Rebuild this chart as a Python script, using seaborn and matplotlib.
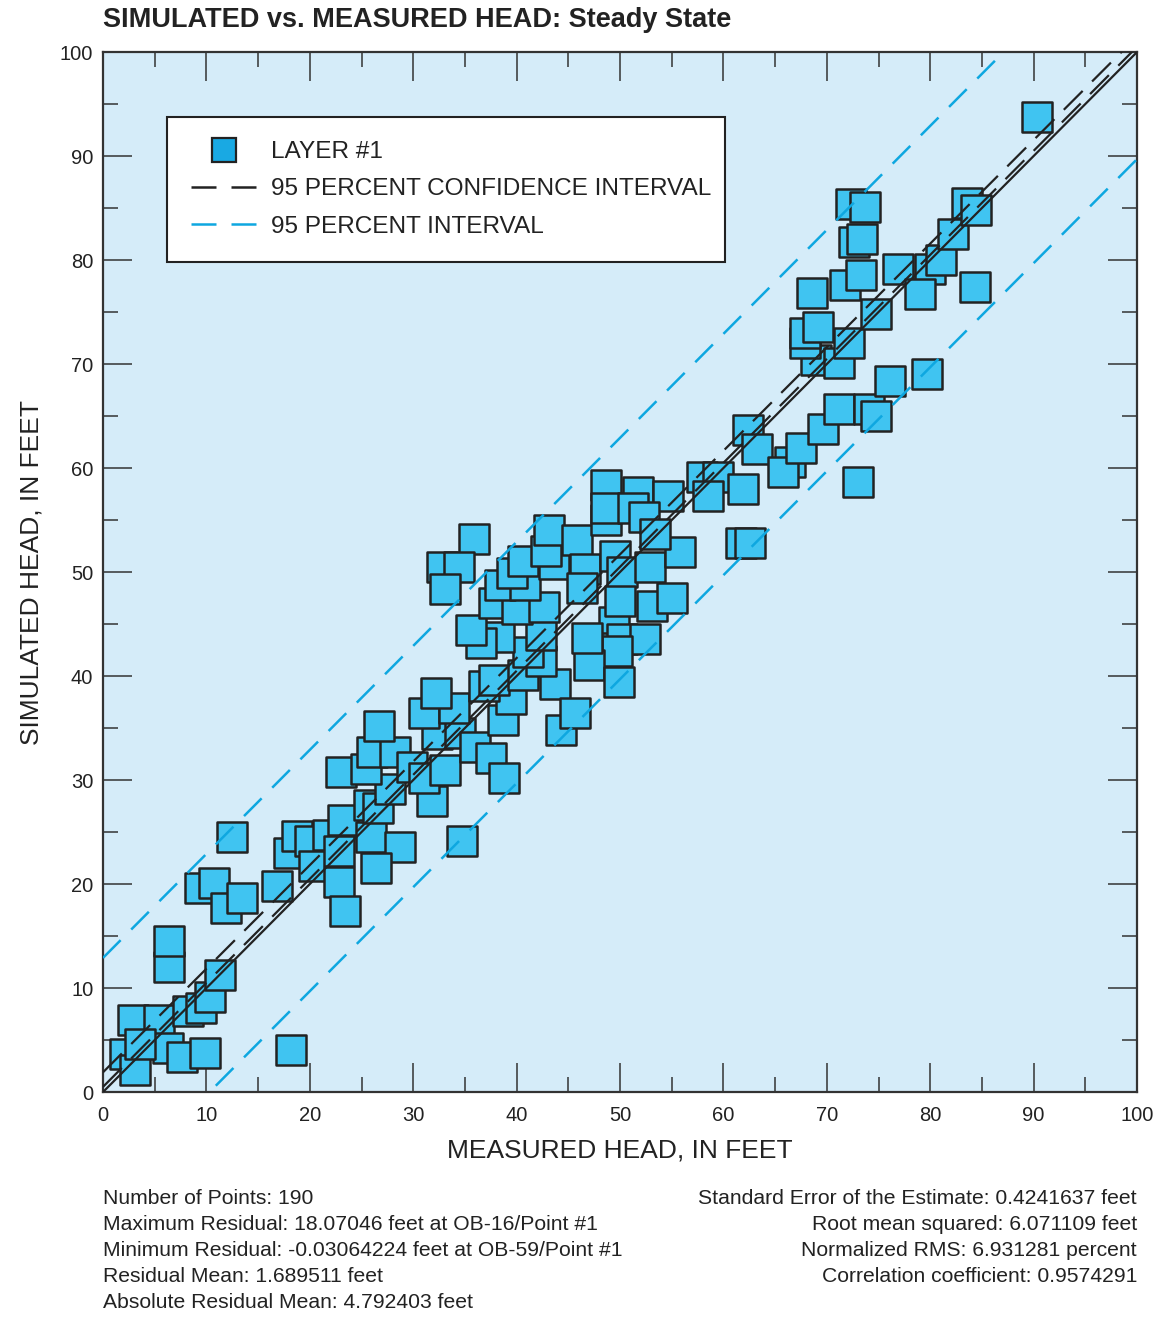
import numpy as np
import pandas as pd
import matplotlib
matplotlib.use("Agg")
import matplotlib.pyplot as plt
from matplotlib.lines import Line2D
import seaborn as sns

# measured / simulated head (feet)
measured = [
    2.1, 3.1, 2.9, 5.4, 6.3, 7.6, 9.9, 18.2, 8.2, 9.5,
    10.3, 11.3, 6.4, 6.4, 9.4, 10.7, 11.9, 13.4, 12.5, 16.8,
    18.0, 18.8, 20.0, 21.8, 20.4, 22.8, 22.8, 23.4, 23.2, 25.9,
    28.7, 26.4, 34.7, 25.7, 26.6, 27.8, 31.8, 23.0, 25.4, 26.0,
    28.2, 29.9, 31.0, 33.1, 26.7, 32.3, 34.5, 36.0, 37.5, 38.8,
    31.0, 33.9, 32.2, 38.7, 39.5, 36.8, 37.8, 40.6, 43.7, 42.4,
    41.1, 42.4, 38.3, 36.6, 35.6, 37.8, 40.0, 42.6, 38.4, 40.8,
    39.6, 40.6, 43.6, 42.8, 43.1, 45.8, 35.9, 32.8, 34.4, 33.1,
    44.3, 45.6, 46.6, 49.5, 50.2, 46.3, 52.9, 55.8, 48.6, 51.7,
    54.6, 57.9, 59.5, 58.5, 61.9, 48.6, 48.6, 51.3, 52.3, 53.4,
    49.4, 47.5, 50.2, 53.1, 55.0, 52.4, 49.7, 47.0, 49.9, 50.0,
    46.8, 61.7, 62.6, 62.4, 63.2, 66.4, 65.8, 67.5, 69.6, 71.2,
    74.1, 74.8, 73.0, 76.1, 79.7, 69.0, 71.2, 67.9, 67.9, 69.1,
    72.1, 74.8, 68.6, 71.8, 73.3, 72.6, 73.4, 72.3, 73.7, 76.9,
    80.0, 79.0, 81.0, 82.2, 83.6, 84.4, 84.3, 90.3, 3.6,
]
simulated = [
    3.7, 2.1, 6.9, 6.9, 4.2, 3.4, 3.8, 4.0, 7.8, 8.1,
    9.1, 11.3, 12.0, 14.5, 19.6, 20.1, 17.7, 18.7, 24.5, 19.8,
    23.0, 24.6, 24.1, 24.7, 21.7, 23.2, 20.2, 17.4, 26.2, 24.5,
    23.6, 21.5, 24.1, 27.6, 27.3, 29.1, 28.0, 30.8, 31.1, 32.7,
    32.7, 31.3, 30.2, 31.0, 35.2, 34.4, 34.5, 33.2, 32.1, 30.2,
    36.4, 36.9, 38.4, 35.8, 37.8, 39.0, 39.6, 40.1, 39.2, 41.4,
    42.3, 43.9, 43.8, 43.2, 44.4, 47.0, 46.4, 46.6, 48.8, 48.8,
    49.9, 51.1, 50.8, 52.0, 54.0, 53.1, 53.2, 50.5, 50.5, 48.4,
    34.8, 36.4, 50.3, 51.5, 50.0, 48.5, 50.5, 51.9, 58.4, 57.7,
    57.3, 59.1, 59.1, 57.3, 58.0, 55.0, 56.2, 56.2, 55.3, 53.7,
    45.2, 42.7, 43.6, 46.7, 47.5, 43.6, 42.4, 41.1, 39.4, 47.2,
    43.7, 52.8, 52.8, 63.7, 61.8, 60.6, 59.6, 61.9, 63.8, 65.7,
    65.7, 65.0, 58.7, 68.4, 69.0, 70.4, 70.1, 72.0, 73.0, 73.6,
    72.0, 74.8, 76.8, 77.6, 78.6, 81.7, 82.0, 85.4, 85.1, 79.1,
    79.1, 76.7, 80.0, 82.5, 85.5, 84.8, 77.4, 93.8, 4.6,
]

# reference lines (x range and y values at both ends)
line_x = [0, 100]
one_to_one = [0, 100]
ci_upper = [1.9, 101.5]
ci_lower = [0.5, 100.5]
pi_upper = [12.9, 112.9]
pi_lower = [-10.3, 89.7]

stats_left = [
    "Number of Points: 190",
    "Maximum Residual: 18.07046 feet at OB-16/Point #1",
    "Minimum Residual: -0.03064224 feet at OB-59/Point #1",
    "Residual Mean: 1.689511 feet",
    "Absolute Residual Mean: 4.792403 feet",
]
stats_right = [
    "Standard Error of the Estimate: 0.4241637 feet",
    "Root mean squared: 6.071109 feet",
    "Normalized RMS: 6.931281 percent",
    "Correlation coefficient: 0.9574291",
]

df = pd.DataFrame({"measured": measured, "simulated": simulated})

sns.set_style("ticks")
plt.rcParams["font.family"] = ["Liberation Sans", "DejaVu Sans"]

bg = "#d5ecf9"
sq = "#40c4f1"
blue = "#0ea7e0"
dark = "#222222"

fig = plt.figure(figsize=(11.56, 13.17), dpi=100)
ax = fig.add_axes([0.0891, 0.1708, 0.8945, 0.7897])
ax.set_facecolor(bg)

sns.scatterplot(data=df, x="measured", y="simulated", marker="s", s=480,
                color=sq, edgecolor=dark, linewidth=1.8, ax=ax, zorder=2,
                legend=False)

ax.plot(line_x, one_to_one, color=dark, lw=1.6, zorder=3)
for yy in (ci_upper, ci_lower):
    ax.plot(line_x, yy, color=dark, lw=1.6, dashes=(12, 6), zorder=3)
for yy in (pi_upper, pi_lower):
    ax.plot(line_x, yy, color=blue, lw=1.8, dashes=(10, 6), zorder=3)

ax.set_xlim(0, 100)
ax.set_ylim(0, 100)
ax.set_xticks(np.arange(0, 101, 10))
ax.set_yticks(np.arange(0, 101, 10))
ax.set_xticks(np.arange(5, 100, 10), minor=True)
ax.set_yticks(np.arange(5, 100, 10), minor=True)
ax.tick_params(which="both", direction="in", top=True, right=True,
               color="#333333", width=1.1, labelsize=14.5, labelcolor=dark)
ax.tick_params(which="major", length=21)
ax.tick_params(which="minor", length=11)
ax.tick_params(axis="x", pad=10)
ax.tick_params(axis="y", pad=7)
for sp in ax.spines.values():
    sp.set_color("#333333")
    sp.set_linewidth(1.6)

ax.set_xlabel("MEASURED HEAD, IN FEET", fontsize=19, color=dark, labelpad=10)
ax.set_ylabel("SIMULATED HEAD, IN FEET", fontsize=19, color=dark, labelpad=12)

fig.text(0.0891, 0.985, "SIMULATED vs. MEASURED HEAD: Steady State",
         fontsize=19.5, fontweight="bold", color=dark, ha="left", va="center")

handles = [
    Line2D([], [], marker="s", ls="none", markersize=17, markerfacecolor="#19a9e3",
           markeredgecolor=dark, markeredgewidth=1.6),
    Line2D([], [], color=dark, lw=1.8, dashes=(10, 6)),
    Line2D([], [], color=blue, lw=1.8, dashes=(10, 6)),
]
labels = ["LAYER #1", "95 PERCENT CONFIDENCE INTERVAL", "95 PERCENT INTERVAL"]
leg = ax.legend(handles, labels, loc="upper left",
                bbox_to_anchor=(0.0619, 0.70, 0.5397, 0.238), mode="expand",
                borderaxespad=0, fontsize=17.6, frameon=True, fancybox=False,
                framealpha=1, edgecolor=dark, handlelength=2.66, handletextpad=0.6,
                labelspacing=0.62, borderpad=1.0, labelcolor=dark)
leg.get_frame().set_linewidth(1.5)
leg.set_zorder(5)

for i, t in enumerate(stats_left):
    fig.text(0.0891, 1 - (1198 + 26 * i) / 1317, t, fontsize=15.2, color=dark,
             ha="left", va="center")
for i, t in enumerate(stats_right):
    fig.text(0.9836, 1 - (1198 + 26 * i) / 1317, t, fontsize=15.2, color=dark,
             ha="right", va="center")

fig.savefig("out.png", dpi=100)
